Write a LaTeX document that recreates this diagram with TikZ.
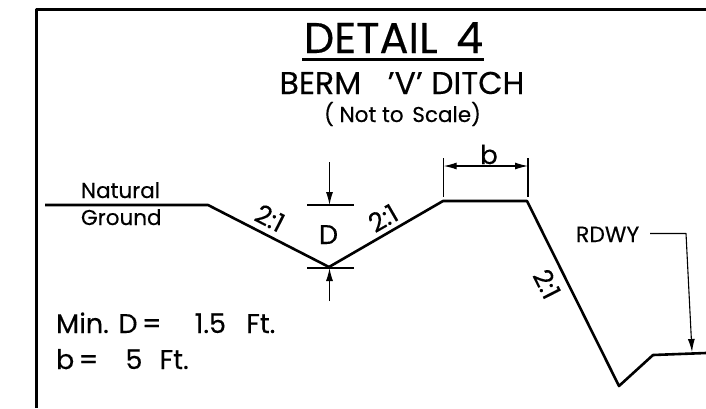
\documentclass[tikz,border=0pt]{standalone}
\usepackage{fontspec}
\setmainfont{Poppins}[FakeBold=0.3]
\usetikzlibrary{arrows.meta}
\tikzset{
  x=1pt,y=-1pt,
  txt/.style={inner sep=0pt,outer sep=0pt,text=black},
  ground/.style={line width=2.6pt,line join=round},
  thin line/.style={line width=1.1pt},
  dim/.style={line width=1.1pt,-{Latex[length=13pt,width=7pt]}},
  dimboth/.style={line width=1.1pt,{Latex[length=13pt,width=7pt]}-{Latex[length=13pt,width=7pt]}},
}
\begin{document}
\begin{tikzpicture}
\useasboundingbox (0,0) rectangle (706,408);
\fill[white] (0,0) rectangle (706,408);
% frame
\coordinate (fa) at (36.5,408);
\coordinate (fb) at (36.5,9.5);
\coordinate (fc) at (706,9.5);
\draw[line width=3pt,line join=round] (fa) -- (fb) -- (fc);
% titles
\node[txt,font=\fontsize{43}{43}\selectfont,anchor=base] (title) at (393.5,53) {DETAIL\hspace{7pt} 4};
\coordinate (ula) at (302,59.5);
\coordinate (ulb) at (484,59.5);
\draw[line width=2.6pt] (ula) -- (ulb);
\node[txt,font=\fontsize{31.5}{31.5}\selectfont,anchor=base] (sub) at (402,94) {BERM\hspace{18pt} ’V’ DITCH};
\node[txt,font=\fontsize{21.5}{21.5}\selectfont,anchor=base] (note) at (402.5,122) {( Not to\hspace{3pt} Scale)};
% ground profile
\coordinate (g0) at (45,205);
\coordinate (g1) at (208,205);
\coordinate (g2) at (329,267);
\coordinate (g3) at (443,201);
\coordinate (g4) at (527,201);
\coordinate (g5) at (619,386);
\coordinate (g6) at (653,355);
\coordinate (g7) at (706,353);
\draw[ground] (g0) -- (g1) -- (g2) -- (g3) -- (g4) -- (g5) -- (g6) -- (g7);
% labels
\node[txt,font=\fontsize{21.5}{21.5}\selectfont,anchor=base west] (nat) at (81,198) {Natural};
\node[txt,font=\fontsize{21.5}{21.5}\selectfont,anchor=base west] (gnd) at (81,225) {Ground};
\node[txt,font=\fontsize{26}{26}\selectfont,rotate=-27] (s1) at (270,218) {2:1};
\node[txt,font=\fontsize{26}{26}\selectfont,rotate=30] (s2) at (383,218) {2:1};
\node[txt,font=\fontsize{26}{26}\selectfont,rotate=-63] (s3) at (547,284) {2:1};
\node[txt,font=\fontsize{27}{27}\selectfont,anchor=base] (D) at (328.5,244) {D};
\node[txt,font=\fontsize{26}{26}\selectfont,anchor=base] (b) at (489,164) {b};
\node[txt,font=\fontsize{22}{22}\selectfont,anchor=base west] (rdwy) at (576,242) {RDWY};
\node[txt,font=\fontsize{27}{27}\selectfont,anchor=base west] (mind) at (56,333) {Min. D\,=\hspace{26pt} 1.5\hspace{13pt} Ft.};
\node[txt,font=\fontsize{27}{27}\selectfont,anchor=base west] (bval) at (56,369) {b\,=\hspace{20pt} 5\hspace{10pt} Ft.};
% D dimension
\coordinate (dt1) at (307,205);
\coordinate (dt2) at (354,205);
\coordinate (db1) at (307,268);
\coordinate (db2) at (354,268);
\coordinate (da0) at (329.5,162);
\coordinate (da1) at (329.5,205);
\coordinate (da2) at (329.5,301);
\coordinate (da3) at (329.5,268);
\draw[thin line] (dt1) -- (dt2);
\draw[thin line] (db1) -- (db2);
\draw[dim] (da0) -- (da1);
\draw[dim] (da2) -- (da3);
% b dimension
\coordinate (ba) at (443.7,158);
\coordinate (bb) at (443.7,197);
\coordinate (bc) at (528,158);
\coordinate (bd) at (528,197);
\coordinate (be) at (443.7,166);
\coordinate (bf) at (528,166);
\draw[thin line] (ba) -- (bb);
\draw[thin line] (bc) -- (bd);
\draw[dimboth] (be) -- (bf);
% RDWY leader
\coordinate (r0) at (650,233.5);
\coordinate (r1) at (686,233.5);
\coordinate (r2) at (692,352);
\draw[dim,line join=round] (r0) -- (r1) -- (r2);
\end{tikzpicture}
\end{document}
